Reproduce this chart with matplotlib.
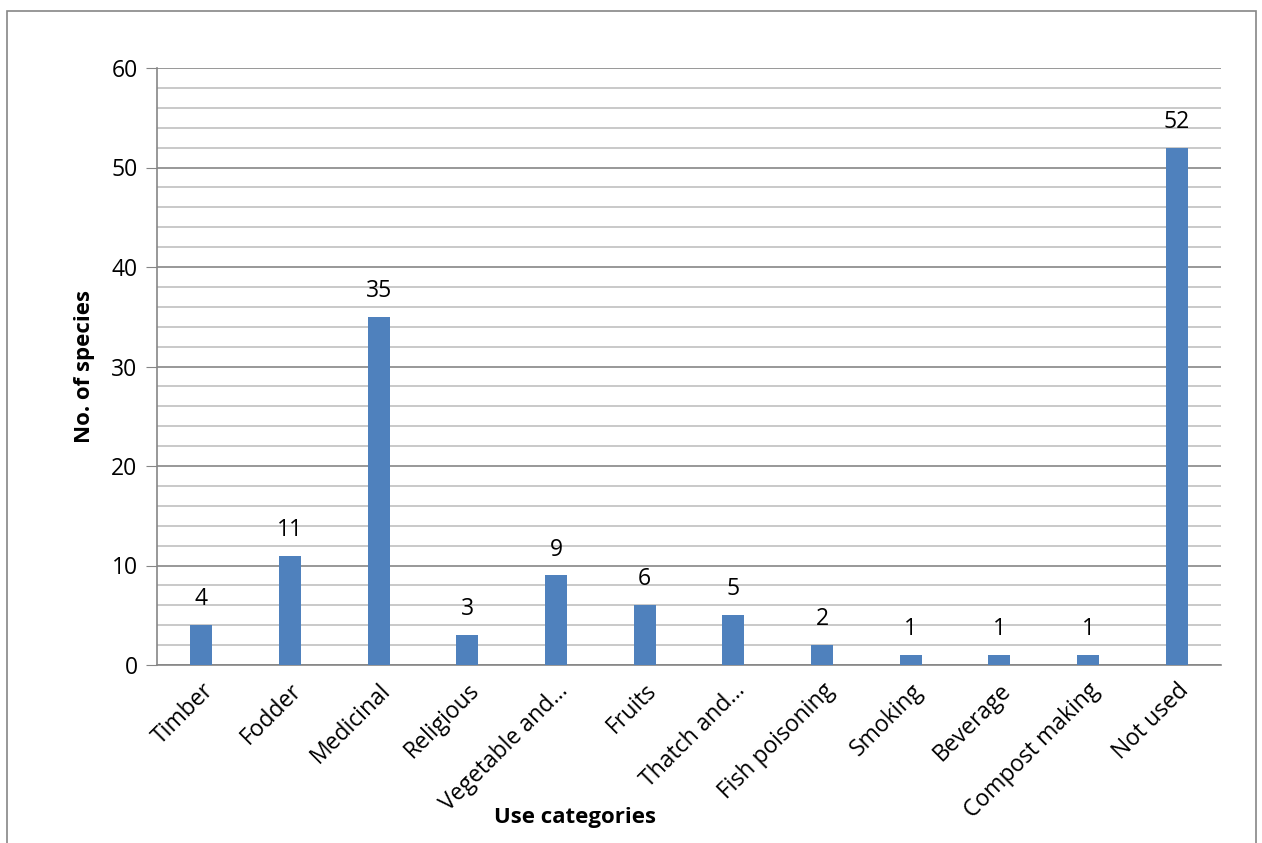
import matplotlib.pyplot as plt
import numpy as np
from matplotlib.patches import Rectangle

categories = ['Timber', 'Fodder', 'Medicinal', 'Religious', 'Vegetable and\u2026',
              'Fruits', 'Thatch and\u2026', 'Fish poisoning', 'Smoking', 'Beverage',
              'Compost making', 'Not used']
species = [4, 11, 35, 3, 9, 6, 5, 2, 1, 1, 1, 52]

plt.rcParams['font.family'] = ['Open Sans', 'DejaVu Sans']

fig = plt.figure(figsize=(12.62, 8.43), dpi=100)
ax = fig.add_axes([157/1262, 1 - 665/843, (1221-157)/1262, (665-68)/843])

# outer chart frame
fig.patches.append(Rectangle((7/1262, -0.05), (1256-7)/1262, 1.05 - 11/843,
                             transform=fig.transFigure, fill=False,
                             edgecolor='#868686', linewidth=1.2))

x = np.arange(len(categories))
ax.bar(x, species, width=0.25, color='#4F81BD', zorder=3)
for xi, v in zip(x, species):
    ax.text(xi, v + 1.4, str(v), ha='center', va='bottom', fontsize=16.5)

ax.set_xlim(-0.5, len(categories) - 0.5)
ax.set_ylim(0, 60)
ax.set_yticks(np.arange(0, 61, 10))
ax.set_yticks(np.arange(0, 61, 2), minor=True)
ax.grid(axis='y', which='major', color='#868686', linewidth=1.2, zorder=0)
ax.grid(axis='y', which='minor', color='#C0C0C0', linewidth=1.2, zorder=0)
ax.tick_params(axis='y', which='major', length=8, color='#868686', labelsize=16.5, pad=6)
ax.tick_params(axis='y', which='minor', length=0)
ax.tick_params(axis='x', length=0, labelsize=16.5, pad=10)

ax.set_xticks(x)
ax.set_xticklabels(categories, rotation=45, ha='right', rotation_mode='anchor')

for s in ['top', 'right']:
    ax.spines[s].set_visible(False)
for s in ['left', 'bottom']:
    ax.spines[s].set_color('#868686')
    ax.spines[s].set_linewidth(1.2)

ax.set_xlabel('Use categories', fontsize=16, fontweight='bold', va='center')
ax.set_ylabel('No. of species', fontsize=16, fontweight='bold', va='center')
ax.xaxis.set_label_coords(0.393, -0.255)
ax.yaxis.set_label_coords(-0.068, 0.5)

fig.savefig('out.png', dpi=100)
